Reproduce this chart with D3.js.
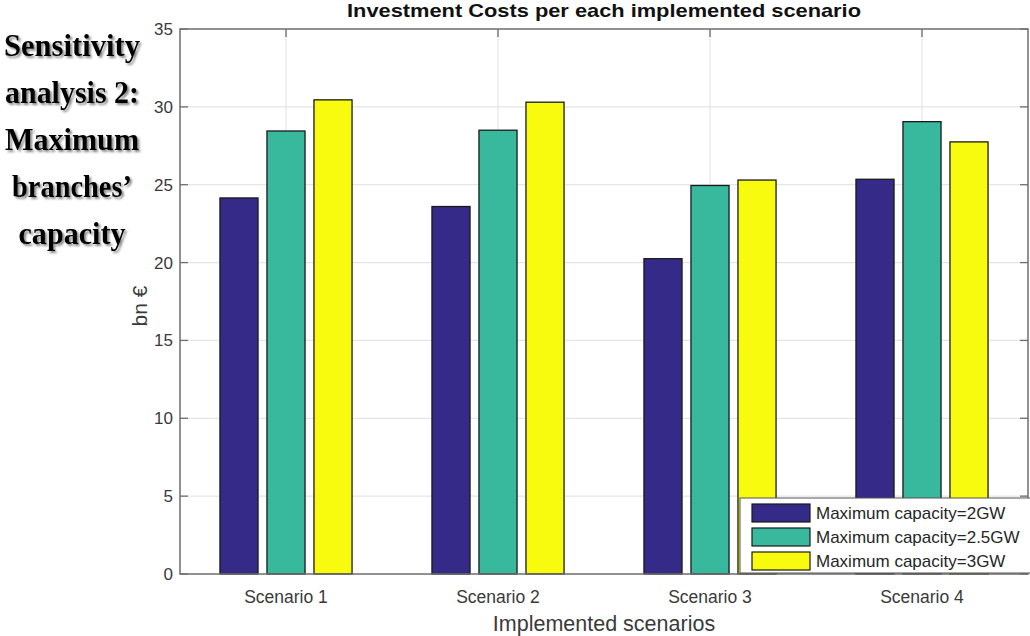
<!DOCTYPE html>
<html>
<head>
<meta charset="utf-8">
<script src="https://cdn.jsdelivr.net/npm/d3@7"></script>
<style>
  body { margin: 0; background: #fff; }
  svg { display: block; font-family: "Liberation Sans", Arial, Helvetica, sans-serif; }
</style>
</head>
<body>
<svg id="chart" width="1030" height="636"></svg>
<script>
// ---- data ----
var scenarios = ["Scenario 1", "Scenario 2", "Scenario 3", "Scenario 4"];
var seriesNames = ["Maximum capacity=2GW", "Maximum capacity=2.5GW", "Maximum capacity=3GW"];
var cap2GW   = [24.15, 23.6, 20.25, 25.35];
var cap25GW  = [28.45, 28.5, 24.95, 29.05];
var cap3GW   = [30.45, 30.3, 25.3, 27.75];
var yTicks = [0, 5, 10, 15, 20, 25, 30, 35];
var sideLines = ["Sensitivity", "analysis 2:", "Maximum", "branches\u2019", "capacity"];

var colors = ["#352a87", "#38b99e", "#f9fb0e"];
var values = [cap2GW, cap25GW, cap3GW];

var svg = d3.select("#chart");
var plot = { left: 180, right: 1028, top: 29, bottom: 574 };

var x = d3.scaleBand()
  .domain(scenarios)
  .range([plot.left, plot.right])
  .paddingInner(0).paddingOuter(0);
var xInner = d3.scaleBand()
  .domain(d3.range(seriesNames.length))
  .range([0, x.bandwidth()])
  .paddingInner(0.19).paddingOuter(0.85);
var y = d3.scaleLinear().domain([0, 35]).range([plot.bottom, plot.top]);

// drop shadow for the left caption
var defs = svg.append("defs");
defs.append("filter").attr("id", "shadow")
  .attr("x", "-10%").attr("y", "-20%").attr("width", "130%").attr("height", "150%")
  .append("feDropShadow")
  .attr("dx", 2).attr("dy", 2).attr("stdDeviation", 1.2)
  .attr("flood-color", "#555").attr("flood-opacity", 0.7);

////////// grid //////////
var grid = svg.append("g").attr("class", "grid");
grid.selectAll("line.h")
  .data(yTicks.slice(1, -1))
  .enter().append("line")
  .attr("x1", plot.left).attr("x2", plot.right)
  .attr("y1", function (d) { return y(d); })
  .attr("y2", function (d) { return y(d); })
  .attr("stroke", "#e5e5e5").attr("stroke-width", 1.2);
grid.selectAll("line.v")
  .data(scenarios)
  .enter().append("line")
  .attr("x1", function (d) { return x(d) + x.bandwidth() / 2; })
  .attr("x2", function (d) { return x(d) + x.bandwidth() / 2; })
  .attr("y1", plot.top).attr("y2", plot.bottom)
  .attr("stroke", "#e5e5e5").attr("stroke-width", 1.2);

////////// bars //////////
var groups = svg.append("g").selectAll("g")
  .data(scenarios)
  .enter().append("g")
  .attr("transform", function (d) { return "translate(" + x(d) + ",0)"; });
groups.selectAll("rect")
  .data(function (d, i) { return values.map(function (v, s) { return { s: s, v: v[i] }; }); })
  .enter().append("rect")
  .attr("x", function (d) { return xInner(d.s); })
  .attr("width", xInner.bandwidth())
  .attr("y", function (d) { return y(d.v); })
  .attr("height", function (d) { return y(0) - y(d.v); })
  .attr("fill", function (d) { return colors[d.s]; })
  .attr("stroke", "#1a1a1a").attr("stroke-width", 1.3);

////////// axes box + ticks //////////
var axisColor = "#6e6e6e";
svg.append("rect")
  .attr("x", plot.left).attr("y", plot.top)
  .attr("width", plot.right - plot.left).attr("height", plot.bottom - plot.top)
  .attr("fill", "none").attr("stroke", axisColor).attr("stroke-width", 1.5);

var tickLen = 8;
svg.append("g").selectAll("line")
  .data(yTicks)
  .enter().append("line")
  .attr("x1", plot.left).attr("x2", plot.left + tickLen)
  .attr("y1", function (d) { return y(d); }).attr("y2", function (d) { return y(d); })
  .attr("stroke", axisColor).attr("stroke-width", 1.3);
svg.append("g").selectAll("line")
  .data(yTicks)
  .enter().append("line")
  .attr("x1", plot.right).attr("x2", plot.right - tickLen)
  .attr("y1", function (d) { return y(d); }).attr("y2", function (d) { return y(d); })
  .attr("stroke", axisColor).attr("stroke-width", 1.3);
svg.append("g").selectAll("line")
  .data(scenarios)
  .enter().append("line")
  .attr("x1", function (d) { return x(d) + x.bandwidth() / 2; })
  .attr("x2", function (d) { return x(d) + x.bandwidth() / 2; })
  .attr("y1", plot.top).attr("y2", plot.top + tickLen)
  .attr("stroke", axisColor).attr("stroke-width", 1.3);

// tick labels
svg.append("g").selectAll("text")
  .data(yTicks)
  .enter().append("text")
  .attr("x", plot.left - 7)
  .attr("y", function (d) { return y(d); })
  .attr("dy", "0.35em")
  .attr("text-anchor", "end")
  .attr("font-size", 17)
  .attr("fill", "#3a3a3a")
  .text(function (d) { return d; });
svg.append("g").selectAll("text")
  .data(scenarios)
  .enter().append("text")
  .attr("x", function (d) { return x(d) + x.bandwidth() / 2; })
  .attr("y", 603)
  .attr("text-anchor", "middle")
  .attr("font-size", 17.5)
  .attr("fill", "#3a3a3a")
  .text(function (d) { return d; });

// titles
svg.append("text")
  .attr("x", (plot.left + plot.right) / 2).attr("y", 17)
  .attr("text-anchor", "middle")
  .attr("font-size", 19).attr("font-weight", "bold")
  .attr("fill", "#111")
  .attr("textLength", 514).attr("lengthAdjust", "spacingAndGlyphs")
  .text("Investment Costs per each implemented scenario");
svg.append("text")
  .attr("x", (plot.left + plot.right) / 2).attr("y", 631)
  .attr("text-anchor", "middle")
  .attr("font-size", 21.5)
  .attr("fill", "#3a3a3a")
  .text("Implemented scenarios");
svg.append("text")
  .attr("transform", "translate(147,306) rotate(-90)")
  .attr("text-anchor", "middle")
  .attr("font-size", 21)
  .attr("fill", "#3a3a3a")
  .text("bn \u20ac");

////////// legend //////////
var legend = svg.append("g").attr("transform", "translate(740,498)");
legend.append("rect")
  .attr("x", 0).attr("y", 0).attr("width", 300).attr("height", 75)
  .attr("fill", "#fff").attr("stroke", "#555").attr("stroke-width", 1);
var rows = legend.selectAll("g.row")
  .data(seriesNames)
  .enter().append("g")
  .attr("transform", function (d, i) { return "translate(12," + (6 + i * 24) + ")"; });
rows.append("rect")
  .attr("width", 58).attr("height", 18)
  .attr("fill", function (d, i) { return colors[i]; })
  .attr("stroke", "#1a1a1a").attr("stroke-width", 1.2);
rows.append("text")
  .attr("x", 64).attr("y", 9).attr("dy", "0.35em")
  .attr("font-size", 17)
  .attr("fill", "#262626")
  .text(function (d) { return d; });

////////// side caption //////////
svg.append("g")
  .attr("filter", "url(#shadow)")
  .selectAll("text")
  .data(sideLines)
  .enter().append("text")
  .attr("x", 72)
  .attr("y", function (d, i) { return 56 + i * 47; })
  .attr("text-anchor", "middle")
  .attr("font-family", "'Liberation Serif', 'Times New Roman', serif")
  .attr("font-weight", "bold")
  .attr("font-size", 32)
  .attr("fill", "#000")
  .attr("textLength", function (d, i) { return [136, 134, 134, 120, 107][i]; })
  .attr("lengthAdjust", "spacingAndGlyphs")
  .text(function (d) { return d; });
</script>
</body>
</html>
